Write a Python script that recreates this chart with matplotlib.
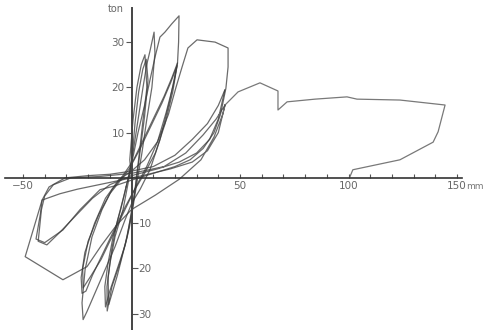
import matplotlib
matplotlib.use("Agg")
import matplotlib.pyplot as plt

# ---- data (displacement in mm, load in ton) ----
c1_x = [0.0, -0.8, 0.7, 2.5, 4.5, 6.2, 7.1, 5.3, 3.5, 1.5, -0.7, -2.0, -5.3, -9.0, -11.2,
        -11.3, -9.9, -7.6, -3.9, -1.5, 0.2]
c1_y = [0.0, 4.0, 12.8, 20.0, 25.0, 27.2, 20.0, 12.8, 5.0, -3.0, -9.3, -13.0, -18.8, -24.0, -29.4,
        -24.0, -18.8, -13.0, -7.0, -1.0, 4.0]

c1b_x = [0.2, 1.6, 3.3, 5.2, 6.8, 7.6, 6.0, 4.0, 2.0, 0.0, -2.8, -6.5, -10.5,
         -10.8, -9.0, -6.5, -3.5, -1.0]
c1b_y = [4.0, 12.0, 19.0, 24.0, 26.2, 21.5, 13.5, 6.0, -1.5, -8.0, -14.5, -21.5, -28.0,
         -22.0, -15.5, -9.5, -4.0, 1.0]

c2_x = [-1.0, 0.5, 3.0, 5.3, 7.0, 8.5, 10.4, 10.8, 9.4, 7.0, 4.8, 2.5, 0.5, -1.0, -3.0, -6.5,
        -10.0, -12.0, -12.3, -10.8, -8.5, -5.0, -2.5]
c2_y = [1.0, 5.0, 12.8, 20.0, 25.0, 28.0, 32.2, 27.6, 20.0, 12.8, 5.5, -1.0, -7.0, -11.0, -15.0,
        -20.0, -25.0, -28.5, -24.0, -18.8, -13.0, -7.0, -2.0]

c3_x = [-2.5, 0.0, 3.0, 6.0, 8.5, 11.0, 13.1, 15.4, 18.5, 21.9, 21.7, 21.2, 17.7, 13.1, 8.5, 4.0,
        0.2, -3.0, -7.6, -12.2, -16.8, -20.5, -22.3, -22.8, -21.4, -18.2, -13.6, -9.0, -4.4]
c3_y = [-2.0, 3.0, 10.0, 16.0, 21.6, 27.0, 31.1, 32.2, 34.0, 35.8, 30.0, 25.4, 17.2, 8.4, 1.8, -2.5,
        -5.5, -9.3, -15.2, -20.3, -25.4, -29.5, -31.3, -27.6, -20.3, -13.0, -7.0, -2.6, 0.2]

c4_x = [-4.4, 1.0, 6.0, 11.0, 15.0, 18.5, 21.2, 19.0, 15.5, 11.0, 6.0, 1.0, -4.0, -9.0, -14.0,
        -18.5, -22.3, -22.5, -20.0, -15.0, -10.0, -5.0]
c4_y = [0.2, 4.0, 9.0, 14.0, 18.0, 22.0, 25.4, 19.0, 12.0, 5.5, 1.0, -3.0, -8.0, -13.0, -18.0,
        -21.5, -24.3, -20.0, -14.0, -8.0, -3.5, -0.5]

c4b_x = [-5.0, -1.0, 4.0, 9.0, 14.0, 18.0, 21.0, 19.5, 16.0, 12.0, 7.0, 2.0, -3.0, -8.0, -13.0,
         -18.0, -21.0, -22.8, -23.2, -21.5, -17.0, -12.0, -6.0]
c4b_y = [-0.5, 2.0, 6.5, 11.5, 16.5, 21.0, 24.8, 21.0, 14.5, 8.0, 2.5, -2.0, -6.5, -11.5, -16.5,
         -21.5, -25.0, -25.5, -22.0, -16.5, -10.0, -4.5, -0.5]

c5_x = [-6.0, 0.0, 6.0, 12.0, 17.0, 20.5, 23.3, 26.0, 30.2, 38.5, 44.5, 44.5, 43.5, 41.0, 38.0, 33.0,
        27.0, 20.0, 10.0, 0.0, -8.0, -14.5, -23.7, -31.6, -40.0, -44.0, -42.0, -41.2, -38.0, -30.6,
        -20.0, -10.0, 0.0, 10.0, 20.0, 28.0, 35.0, 40.0, 43.0]
c5_y = [-0.5, 1.5, 4.0, 8.0, 14.0, 20.0, 24.5, 28.7, 30.5, 30.0, 28.7, 24.5, 19.8, 14.0, 10.0, 6.5,
        4.0, 2.5, 1.0, -0.5, -1.8, -2.6, -7.0, -11.5, -14.3, -13.5, -8.0, -4.9, -2.0, 0.0,
        0.5, 0.8, 1.5, 2.5, 5.0, 8.5, 12.0, 16.0, 19.4]

c6_x = [43.0, 40.0, 36.0, 30.0, 22.0, 12.0, 0.0, -10.0, -18.0, -26.0, -33.0, -39.0, -43.0,
        -41.5, -40.0, -36.0, -28.0, -15.0, 0.0, 15.0, 25.0, 33.0, 39.0, 43.1]
c6_y = [19.4, 13.0, 8.5, 5.5, 3.5, 2.0, 0.5, -1.5, -4.5, -8.5, -12.0, -14.8, -14.0,
        -7.0, -4.0, -1.5, 0.0, 0.3, 1.0, 2.5, 5.5, 9.5, 13.0, 16.1]

c7_x = [43.1, 40.0, 35.0, 28.0, 18.0, 5.0, -5.0, -15.0, -25.0, -33.0, -41.2, -49.0, -31.6, -20.5,
        -14.0, -7.0, 0.0, 11.0, 22.0, 32.0, 38.0, 42.0, 43.1]
c7_y = [16.1, 10.0, 6.0, 3.5, 2.0, 0.5, -0.5, -1.5, -2.5, -3.5, -4.9, -17.4, -22.5, -19.6,
        -15.0, -10.5, -7.0, -3.8, -0.3, 4.0, 9.0, 14.0, 16.1]

final_x = [43.1, 49.1, 59.2, 67.5, 67.5, 71.7, 84.6, 99.3, 103.9, 123.7, 144.5, 141.3, 139.0,
           123.7, 102.0, 100.6]
final_y = [16.1, 19.0, 21.0, 19.2, 15.0, 16.8, 17.4, 17.9, 17.4, 17.2, 16.1, 10.2, 7.9,
           4.0, 1.8, 0.2]

cycles = [(c1_x, c1_y), (c1b_x, c1b_y), (c2_x, c2_y), (c3_x, c3_y), (c4_x, c4_y),
          (c4b_x, c4b_y), (c5_x, c5_y), (c6_x, c6_y), (c7_x, c7_y)]

x_major = [-50, 50, 100, 150]
x_major_labels = ["\u221250", "50", "100", "150"]
x_minor = list(range(-50, 151, 10))
y_major = [-30, -20, -10, 10, 20, 30]
y_major_labels = ["30", "20", "10", "10", "20", "30"]

# ---- figure ----
fig = plt.figure(figsize=(4.85, 3.3), dpi=100)
ax = fig.add_axes([0, 0, 1, 1])
ax.set_xlim(-60.6, 162.9)
ax.set_ylim(-33.6, 39.3)

for xs, ys in cycles:
    ax.plot(xs, ys, color="#3a3a3a", lw=0.9, alpha=0.75, solid_joinstyle="round")
ax.plot(final_x, final_y, color="#6a6a6a", lw=0.9, alpha=0.9)

ax.spines["top"].set_visible(False)
ax.spines["left"].set_position(("data", 0))
ax.spines["right"].set_position(("data", 0))
ax.spines["bottom"].set_position(("data", 0))
ax.spines["right"].set_visible(False)
ax.spines["left"].set_bounds(-33.6, 37.5)
ax.spines["bottom"].set_bounds(-58.3, 152.5)
ax.spines["left"].set_color("#444444")
ax.spines["bottom"].set_color("#333333")
ax.spines["left"].set_linewidth(1.4)
ax.spines["bottom"].set_linewidth(1.2)

ax.set_xticks(x_major)
ax.set_xticklabels(x_major_labels)
ax.set_xticks(x_minor, minor=True)
ax.tick_params(axis="x", which="both", direction="in", length=3, width=0.8,
               color="#555555", labelsize=7.5, labelcolor="#666666", pad=2)

ax.yaxis.set_ticks_position("both")
ax.set_yticks(y_major)
ax.set_yticklabels(y_major_labels)
ax.tick_params(axis="y", which="major", direction="out", length=4, width=0.8,
               color="#555555", labelsize=7.5, labelcolor="#666666", pad=1,
               labelleft=True, labelright=True)
for val, tick in zip(y_major, ax.yaxis.get_major_ticks()):
    pos = val > 0
    tick.tick1line.set_visible(pos)
    tick.label1.set_visible(pos)
    tick.tick2line.set_visible(not pos)
    tick.label2.set_visible(not pos)

ax.text(-3.5, 37.3, "ton", ha="right", va="center", fontsize=7, color="#666666")
ax.text(154.0, -0.8, "mm", ha="left", va="top", fontsize=6.5, color="#777777")

fig.savefig("out.png", dpi=100, facecolor="white")
